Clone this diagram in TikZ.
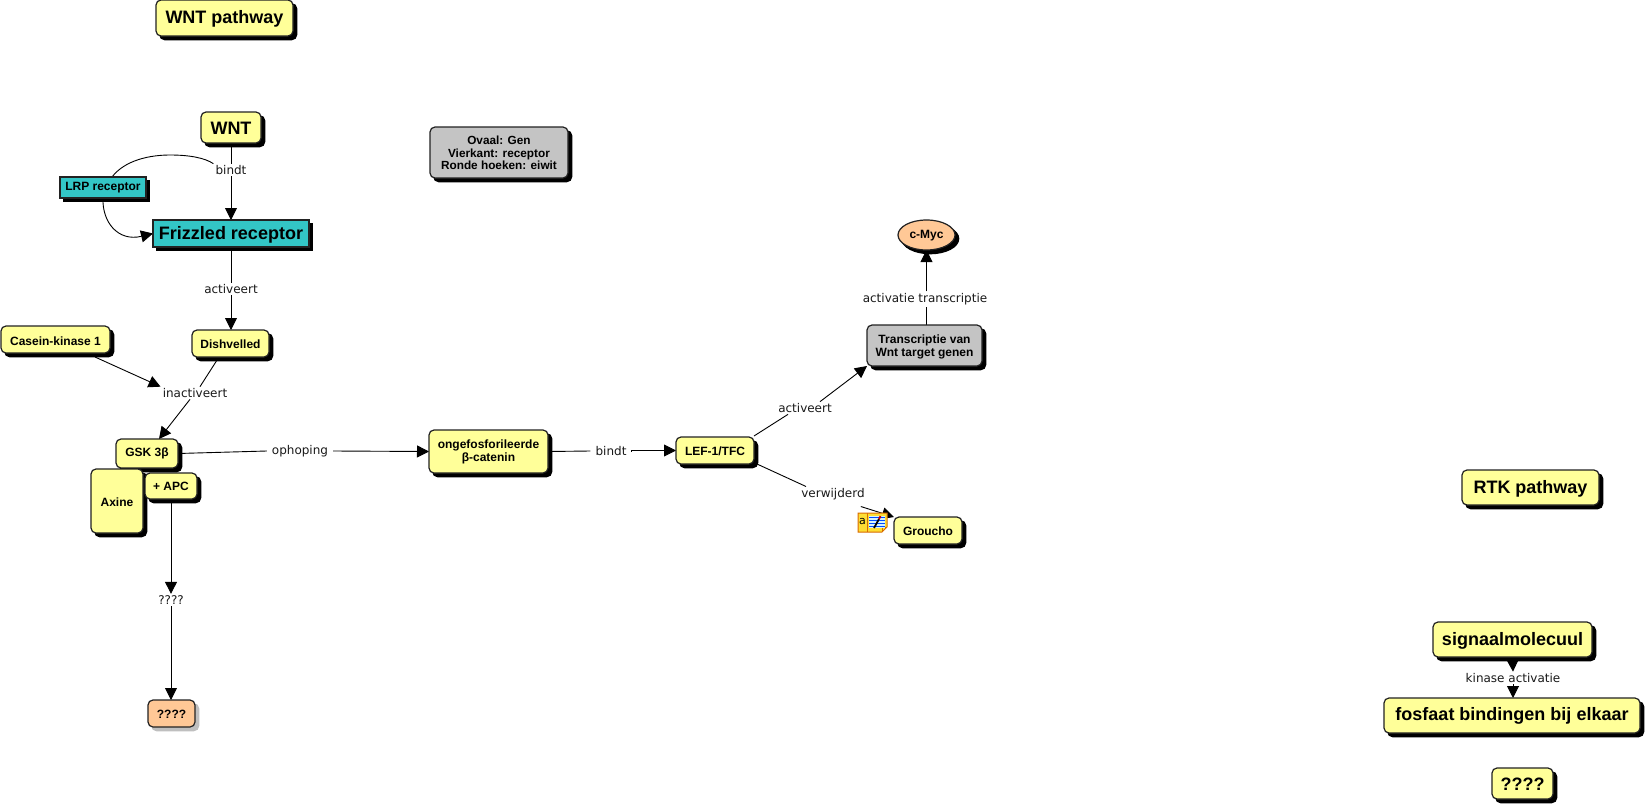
\documentclass[tikz,border=0pt]{standalone}
\usepackage{fontspec}
\setmainfont{Liberation Sans}
\newfontfamily\lblfont{DejaVu Sans}
\usetikzlibrary{shapes.geometric,shadows,arrows.meta,calc,backgrounds}
\definecolor{cyel}{HTML}{FFFF99}
\definecolor{cteal}{HTML}{33C6C6}
\definecolor{cgray}{HTML}{C4C4C4}
\definecolor{corange}{HTML}{FFC896}
\definecolor{cline}{HTML}{222222}
\newcommand\fsz[1]{\fontsize{#1}{#1}\selectfont\bfseries}
\newcommand\bx[8][2]{%
  \pgfmathsetmacro\cxx{(#3+#5)/2}\pgfmathsetmacro\cyy{(#4+#6)/2}%
  \pgfmathsetmacro\www{#5-#3}\pgfmathsetmacro\hhh{#6-#4}%
  \node[#7,minimum width=\www pt,minimum height=\hhh pt] (#2) at (\cxx,\cyy) {\raisebox{-#1pt}[\height][\depth]{\def\arraystretch{1.05}\begin{tabular}{@{}c@{}}#8\end{tabular}}};}
\tikzset{
  boxbase/.style={draw=cline,line width=1.2pt,inner sep=0pt,outer sep=0pt,align=center,text=black,
    copy shadow={shadow xshift=3.7pt,shadow yshift=-3.7pt,fill=black,draw=black,opacity=1}},
  roundy/.style={boxbase,rectangle,rounded corners=5pt,fill=cyel},
  graybox/.style={boxbase,rectangle,rounded corners=5pt,fill=cgray},
  recept/.style={boxbase,rectangle,fill=cteal},
  genoval/.style={boxbase,ellipse,fill=corange},
  orangebox/.style={draw=cline,line width=1.2pt,inner sep=0pt,outer sep=0pt,rectangle,rounded corners=5pt,fill=corange,
    copy shadow={shadow xshift=3.7pt,shadow yshift=-3.7pt,fill=black!25,draw=black!25,opacity=1}},
  lbl/.style={font=\lblfont\fontsize{12}{12}\selectfont,inner xsep=5pt,inner ysep=1.5pt,text=black!90},
  conn/.style={draw=black,line width=0.9pt},
  arr/.style={conn,-{Triangle[length=12pt,width=12pt]}},
}
\begin{document}
\begin{tikzpicture}[x=1pt,y=-1pt]
\begin{pgfonlayer}{background}
\fill[white] (0,0) rectangle (1647,806);
\end{pgfonlayer}
\useasboundingbox (0,0) rectangle (1647,806);
% boxes
\bx[1]{wntp}{156}{0}{293}{36}{roundy}{\fsz{18}WNT pathway}
\bx[3]{wnt}{201}{112}{261}{143}{roundy}{\fsz{18}WNT}
\bx[0]{lrp}{60}{177}{146}{198}{recept}{\fsz{12}LRP receptor}
\bx[1]{friz}{153}{220}{309}{247}{recept}{\fsz{18}Frizzled receptor}
\bx[2]{legend}{430}{127}{568}{178}{graybox}{\fsz{11.8}Ovaal: Gen\\\fsz{11.8}Vierkant: receptor\\\fsz{11.8}Ronde hoeken: eiwit}
\bx[1]{myc}{898}{220}{955}{250}{genoval}{\fsz{12}c-Myc}
\bx[2]{trans}{867}{325}{982}{366}{graybox}{\fsz{12}Transcriptie van\\\fsz{12}Wnt target genen}
\bx[3]{casein}{1}{326}{110}{353}{roundy}{\fsz{12}Casein-kinase 1}
\bx[2]{dish}{192}{330}{269}{357}{roundy}{\fsz{12}Dishvelled}
\bx[0]{gsk}{116}{439}{178}{468}{roundy}{\fsz{12}GSK 3β}
\bx[3]{axine}{91}{469}{143}{533}{roundy}{\fsz{12}Axine}
\bx[2]{apc}{145}{473}{197}{499}{roundy}{\fsz{12}+ APC}
\bx[1]{onge}{429}{430}{548}{473}{roundy}{\fsz{12}ongefosforileerde\\\fsz{12}β-catenin}
\bx[2]{lef}{676}{437}{754}{464}{roundy}{\fsz{12}LEF-1/TFC}
\bx[2]{grou}{894}{517}{962}{544}{roundy}{\fsz{12}Groucho}
\bx[2]{qorange}{148}{700}{195}{727}{orangebox}{\fsz{12}????}
\bx[1]{rtkp}{1462}{470}{1599}{505}{roundy}{\fsz{18}RTK pathway}
\bx[1]{signal}{1433}{622}{1592}{657}{roundy}{\fsz{18}signaalmolecuul}
\bx[0]{fosf}{1384}{698}{1640}{733}{roundy}{\fsz{18}fosfaat bindingen bij elkaar}
\bx[3]{qend}{1492}{768}{1553}{799}{roundy}{\fsz{18}????}
% labels
\node[lbl] (lbindt) at (231,170) {bindt};
\node[lbl] (lact) at (231,289) {activeert};
\node[lbl] (linact) at (195,393) {inactiveert};
\node[lbl] (loph) at (300,451) {ophoping};
\node[lbl] (lbindb) at (611,451) {bindt};
\node[lbl] (lactc) at (805,408) {activeert};
\node[lbl] (lverw) at (833,494) {verwijderd};
\node[lbl] (lq) at (171,600) {????};
\node[lbl] (ltrans) at (925,299) {activatie transcriptie};
\node[lbl] (lkin) at (1513,678) {kinase activatie};
% connectors
\begin{pgfonlayer}{background}
\draw[conn] (wnt.south) -- (lbindt.north);
\draw[arr] (lbindt.south) -- (friz.north);
\draw[conn] ([xshift=9pt]lrp.north) .. controls (125,160) and (150,155) .. (170,155) .. controls (190,155) and (205,158) .. ([xshift=3pt]lbindt.north west);
\draw[arr] (lrp.south) .. controls (102,222) and (118,242) .. (friz.west);
\draw[conn] (friz.south) -- (lact.north);
\draw[arr] (lact.south) -- (lact.south |- dish.north);
\draw[arr] ([shift={(94pt,-4pt)}]casein.south west) -- ([xshift=3pt]linact.north west);
\draw[conn] ([xshift=-11.5pt]dish.south) -- ([xshift=5pt]linact.north);
\draw[arr] ([xshift=-5pt]linact.south) -- ([xshift=12pt]gsk.north);
\draw[conn] (gsk.east) -- (loph.west);
\draw[arr] (loph.east) -- (onge.west);
\draw[conn] (onge.east) -- (lbindb.west);
\draw[arr] (lbindb.east) -- (lbindb.east |- lef.west) -- (lef.west);
\draw[conn] ([yshift=1pt]lef.north east) -- ([xshift=-17pt]lactc.south);
\draw[arr] ([xshift=15pt]lactc.north) -- (trans.south west);
\draw[conn] ([xshift=3pt]lef.south east) -- ([xshift=-27pt]lverw.north);
\draw[conn] (myc.south |- trans.north) -- (myc.south |- ltrans.south);
\draw[arr] (myc.south |- ltrans.north) -- (myc.south);
\draw[arr] ([shift={(-9pt,-5pt)}]lverw.south east) -- (grou.north west);
\draw[arr] (signal.south) -- (lkin.north);
\draw[arr] (lkin.south) -- (lkin.south |- fosf.north);
\draw[arr] (apc.south) -- (apc.south |- lq.north);
\draw[arr] (apc.south |- lq.south) -- (apc.south |- qorange.north);
\end{pgfonlayer}
% note icon
\draw[draw=orange!85!black,line width=1pt,fill=yellow!75!orange!80] (858,513) -- (887,513) -- (887,527) -- (882,532) -- (858,532) -- cycle;
\draw[orange!85!black,line width=0.8pt] (882,532) -- (882,527) -- (887,527);
\draw[orange!85!black,line width=0.6pt] (867,513) -- (867,532);
\node[inner sep=0pt,font=\lblfont\fontsize{11}{11}\selectfont] (notea) at (862.5,521) {a};
\fill[white!60!cyan!40] (869,516) rectangle (885,528);
\foreach \yy in {517,520,523,526} \draw[blue!70!cyan,line width=0.7pt] (869,\yy) -- (885,\yy);
\draw[black,line width=1.8pt] (874,528) -- (879,519);
\draw[red!80!black,line width=1.8pt] (879,519) -- (880.5,516);
\end{tikzpicture}
\end{document}
